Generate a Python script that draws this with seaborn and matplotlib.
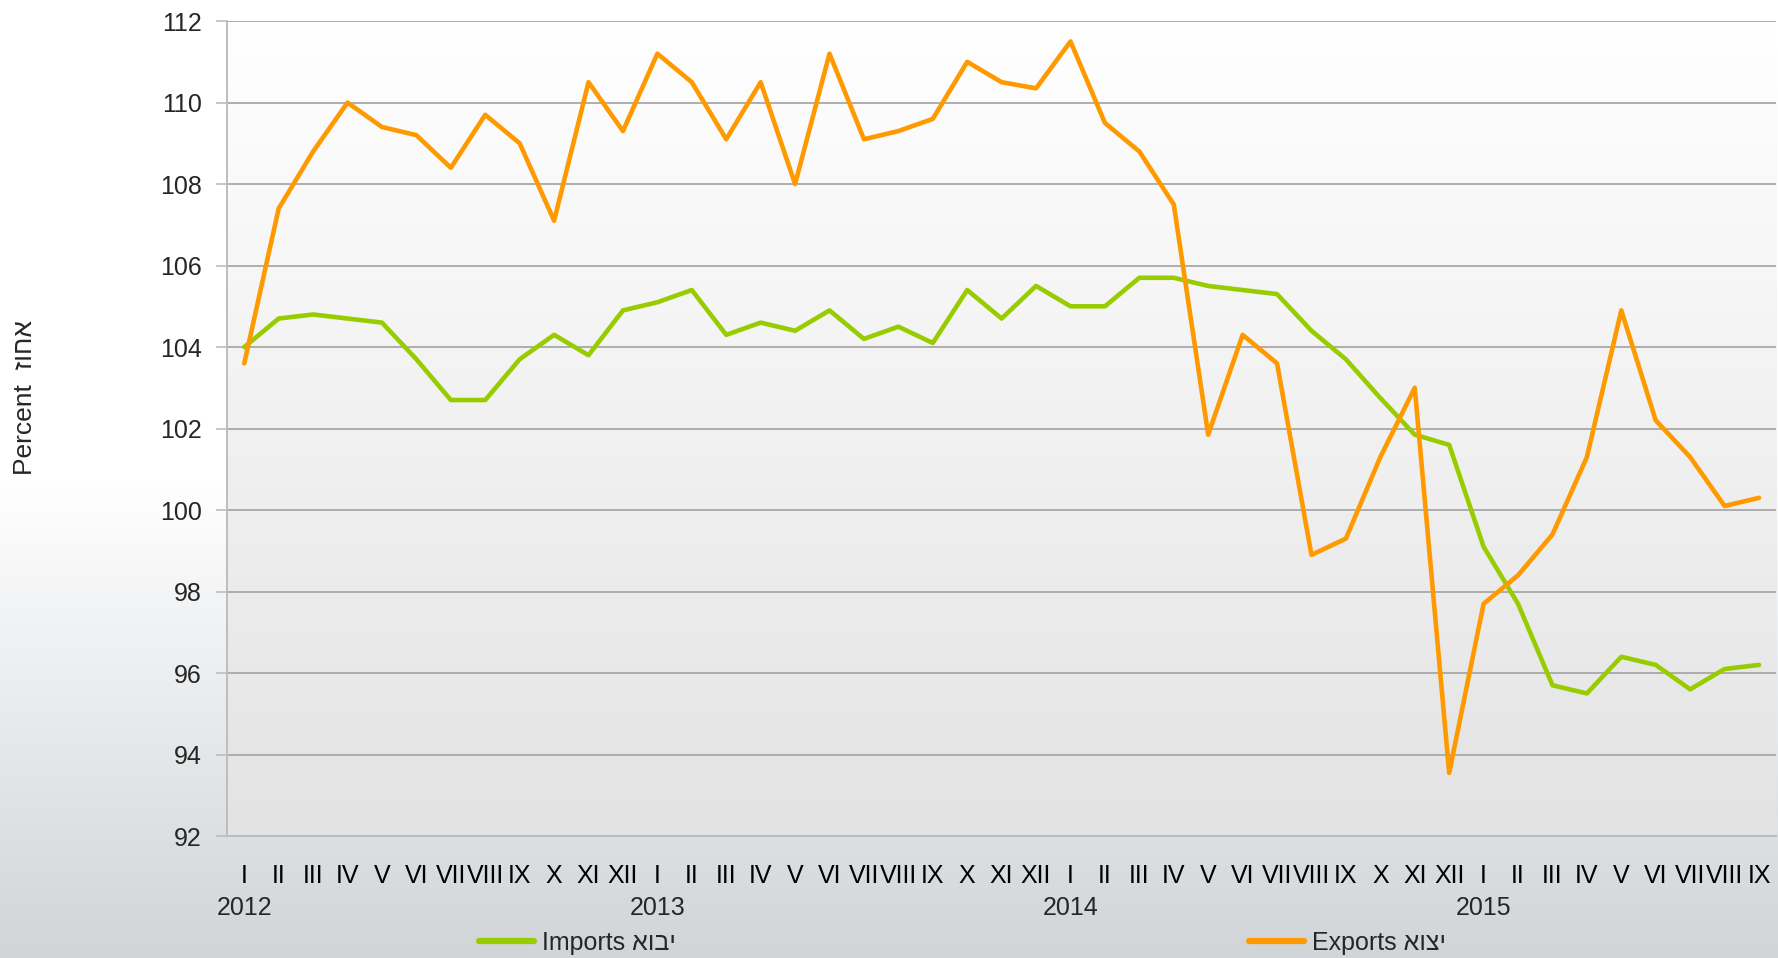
import numpy as np
import pandas as pd
import matplotlib
matplotlib.use("Agg")
import matplotlib.pyplot as plt
from matplotlib.colors import LinearSegmentedColormap
import seaborn as sns

months = ["I", "II", "III", "IV", "V", "VI", "VII", "VIII", "IX", "X", "XI", "XII"]
years = ["2012", "2013", "2014", "2015"]
month_labels = months * 3 + months[:9]

exports = [103.6, 107.4, 108.8, 110.0, 109.4, 109.2, 108.4, 109.7, 109.0, 107.1, 110.5, 109.3,
           111.2, 110.5, 109.1, 110.5, 108.0, 111.2, 109.1, 109.3, 109.6, 111.0, 110.5, 110.35,
           111.5, 109.5, 108.8, 107.5, 101.85, 104.3, 103.6, 98.9, 99.3, 101.3, 103.0, 93.55,
           97.7, 98.4, 99.4, 101.3, 104.9, 102.2, 101.3, 100.1, 100.3]
imports = [104.0, 104.7, 104.8, 104.7, 104.6, 103.7, 102.7, 102.7, 103.7, 104.3, 103.8, 104.9,
           105.1, 105.4, 104.3, 104.6, 104.4, 104.9, 104.2, 104.5, 104.1, 105.4, 104.7, 105.5,
           105.0, 105.0, 105.7, 105.7, 105.5, 105.4, 105.3, 104.4, 103.7, 102.75, 101.85, 101.6,
           99.1, 97.7, 95.7, 95.5, 96.4, 96.2, 95.6, 96.1, 96.2]

# Hebrew words reversed so they read right-to-left when drawn
imp_label = "Imports " + "יבוא"[::-1]
exp_label = "Exports " + "יצוא"[::-1]
ylabel = "Percent  " + "אחוז"[::-1]

n = len(exports)
df = pd.DataFrame({
    "idx": list(range(n)) * 2,
    "value": imports + exports,
    "series": [imp_label] * n + [exp_label] * n,
})

sns.set_theme(style="white")
plt.rcParams["font.family"] = ["Liberation Sans", "DejaVu Sans"]
narrow = ["Liberation Sans Narrow", "Liberation Sans"]

fig = plt.figure(figsize=(17.78, 9.58), dpi=100)

# figure background gradient
bg = fig.add_axes([0, 0, 1, 1], zorder=-10)
grad = np.linspace(0, 1, 256).reshape(-1, 1)
bg_cmap = LinearSegmentedColormap.from_list("bg", ["#ffffff", "#ffffff", "#d1d5d8"])
bg.imshow(grad, aspect="auto", cmap=bg_cmap, extent=[0, 1, 0, 1], origin="upper")
bg.set_axis_off()

ax = fig.add_axes([0.1277, 0.1273, 0.8713, 0.8507])
ax.set_facecolor("none")
pa_cmap = LinearSegmentedColormap.from_list("pa", ["#ffffff", "#e3e3e3"])
ax.imshow(grad, aspect="auto", cmap=pa_cmap, extent=[-0.5, n - 0.5, 92, 112],
          origin="upper", zorder=0)

sns.lineplot(data=df, x="idx", y="value", hue="series", ax=ax,
             palette={imp_label: "#99cc00", exp_label: "#ff9900"},
             linewidth=3.3, legend=False, zorder=3)

ax.set_xlim(-0.5, n - 0.5)
ax.set_ylim(92, 112)
ax.set_yticks(np.arange(92, 113, 2))
ax.yaxis.grid(True, color="#a8a8a8", linewidth=1.3, zorder=1)
ax.set_axisbelow(True)

ax.set_xticks(range(n))
ax.set_xticklabels(month_labels, family=narrow, fontsize=18)
ax.set_xticks(np.arange(-0.5, n, 1), minor=True)
ax.tick_params(axis="x", which="major", length=0, pad=20, colors="#000000")
ax.tick_params(axis="x", which="minor", length=9, width=1.2, color="#bdbdbd", direction="out")
ax.tick_params(axis="y", length=8, width=1.2, color="#bdbdbd", labelsize=18, pad=10,
               direction="out", left=True)

for s in ["top", "right"]:
    ax.spines[s].set_visible(False)
for s in ["left", "bottom"]:
    ax.spines[s].set_color("#bdbdbd")
    ax.spines[s].set_linewidth(1.4)
ax.set_xlabel("")
ax.set_ylabel("")

# year labels under January of each year
for k, yr in enumerate(years):
    ax.text(k * 12, -0.088, yr, transform=ax.get_xaxis_transform(),
            ha="center", va="center", fontsize=18)

fig.text(0.014, 0.585, ylabel, rotation=90, ha="center", va="center", fontsize=19)

lines = ax.get_lines()
leg1 = fig.legend([lines[0]], [imp_label], loc="center left", bbox_to_anchor=(0.257, 0.016),
                  frameon=False, handlelength=2.2, handletextpad=0.3,
                  prop={"family": narrow, "size": 18})
leg2 = fig.legend([lines[1]], [exp_label], loc="center left", bbox_to_anchor=(0.690, 0.016),
                  frameon=False, handlelength=2.2, handletextpad=0.3,
                  prop={"family": narrow, "size": 18})
for leg in (leg1, leg2):
    for h in leg.legend_handles:
        h.set_linewidth(4.5)

fig.savefig("out.png", dpi=100)
